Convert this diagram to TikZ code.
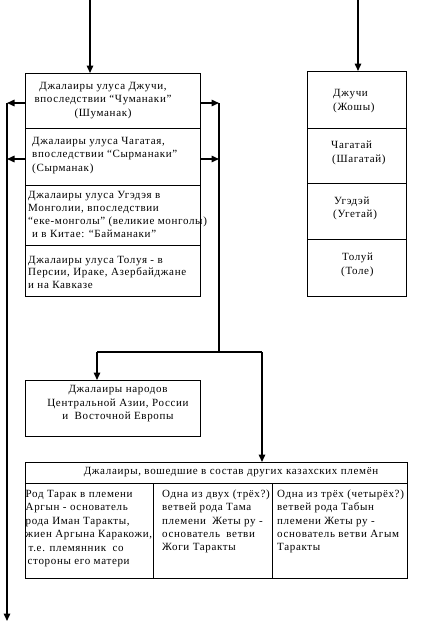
\documentclass[tikz,border=0pt]{standalone}
\usepackage{fontspec}
\setmainfont{Liberation Serif}[LetterSpace=6]
\usetikzlibrary{arrows.meta}
\begin{document}
\begin{tikzpicture}[x=1pt,y=-1pt,
  box/.style={draw, line width=1.2pt, inner sep=0pt, anchor=north west},
  txt/.style={inner sep=0pt, align=left, font=\fontsize{11}{#1}\selectfont},
  txt/.default=13.5,
  ctxt/.style={inner sep=0pt, align=center, font=\fontsize{11}{#1}\selectfont},
  ctxt/.default=13.5,
  conn/.style={line width=1.5pt},
  arr/.style={line width=1.5pt, -{Triangle[length=7.5pt,width=6.5pt]}}]
\useasboundingbox (0,0) rectangle (427,624);

% left column boxes
\node[box, minimum width=175pt, minimum height=55pt] (j1) at (25,73) {};
\node[box, minimum width=175pt, minimum height=57pt] (j2) at (25,128) {};
\node[box, minimum width=175pt, minimum height=60pt] (j3) at (25,185) {};
\node[box, minimum width=175pt, minimum height=51pt] (j4) at (25,245) {};
\node[box, minimum width=175pt, minimum height=56pt] (nar) at (25,380) {};

% right column boxes
\node[box, minimum width=99pt, minimum height=57pt] (r1) at (307,71) {};
\node[box, minimum width=99pt, minimum height=55pt] (r2) at (307,128) {};
\node[box, minimum width=99pt, minimum height=56pt] (r3) at (307,183) {};
\node[box, minimum width=99pt, minimum height=57pt] (r4) at (307,239) {};

% bottom table
\node[box, minimum width=382pt, minimum height=21pt] (hdr) at (25,462) {};
\node[box, minimum width=128pt, minimum height=95pt] (c1) at (25,483) {};
\node[box, minimum width=119pt, minimum height=95pt] (c2) at (153,483) {};
\node[box, minimum width=135pt, minimum height=95pt] (c3) at (272,483) {};

% texts
\node[ctxt] (j1t) at (103,100.5) {Джалаиры улуса Джучи,\\впоследствии “Чуманаки”\\(Шуманак)};
\node[txt, anchor=west] (j2t) at (32,155.5) {Джалаиры улуса Чагатая,\\впоследствии “Сырманаки”\\(Сырманак)};
\node[txt=13, anchor=west] (j3t) at (28,214) {Джалаиры улуса Угэдэя в\\Монголии, впоследствии\\“еке-монголы” (великие монголы)\\\hspace*{4pt}и в Китае: “Байманаки”};
\node[txt=12.5, anchor=west] (j4t) at (28,272) {Джалаиры улуса Толуя - в\\Персии, Ираке, Азербайджане\\и на Кавказе};
\node[ctxt] (nart) at (118,404) {Джалаиры народов\\Центральной Азии, России\\и\hspace*{3pt} Восточной Европы};

\node[txt=14, anchor=west] (r1t) at (333,101) {Джучи\\(Жошы)};
\node[txt=14, anchor=west] (r2t) at (331,153) {Чагатай\\\hspace*{1pt}(Шагатай)};
\node[txt=13.5, anchor=west] (r3t) at (333,208.5) {\hspace*{1pt}Угэдэй\\(Угетай)};
\node[txt=14, anchor=west] (r4t) at (341,265) {\hspace*{1pt}Толуй\\(Толе)};

\node[ctxt] (hdrt) at (231,472.5) {Джалаиры, вошедшие в состав других казахских племён};
\node[txt=13.4, anchor=west] (c1t) at (25.5,528.5) {Род Тарак в племени\\Аргын - основатель\\рода Иман Таракты,\\жиен Аргына Каракожи,\\\hspace*{3pt}т.е. племянник\hspace*{3pt} со\\\hspace*{2pt}стороны его матери};
\node[txt=13.4, anchor=west] (c2t) at (162,521.5) {Одна из двух (трёх?)\\ветвей рода Тама\\племени\hspace*{3pt} Жеты ру -\\основатель\hspace*{3pt} ветви\\Жоги Таракты};
\node[txt=13.4, anchor=west] (c3t) at (277,521.5) {Одна из трёх (четырёх?)\\ветвей рода Табын\\племени Жеты ру -\\основатель ветви Агым\\Таракты};

% connectors
\coordinate (top1) at (90,0);
\coordinate (top2) at (358,0);
\coordinate (L1) at (7,103);
\coordinate (L2) at (7,159);
\coordinate (Lend) at (7,621);
\coordinate (R1) at (219,103);
\coordinate (R2) at (219,159);
\coordinate (Rj) at (219,352);
\coordinate (Hl) at (97,352);
\coordinate (Hr) at (262,352);

\draw[arr] (top1) -- (top1 |- j1.north);
\draw[arr] (top2) -- (top2 |- r1.north);
\draw[arr] (j1.west |- L1) -- (L1);
\draw[arr] (j2.west |- L2) -- (L2);
\draw[arr] (L1) -- (Lend);
\draw[arr] (j1.east |- R1) -- (R1);
\draw[arr] (j2.east |- R2) -- (R2);
\draw[conn] (R1) -- (Rj);
\draw[conn] (Hl) -- (Hr);
\draw[arr] (Hl) -- (Hl |- nar.north);
\draw[arr] (Hr) -- (Hr |- hdr.north);
\end{tikzpicture}
\end{document}
